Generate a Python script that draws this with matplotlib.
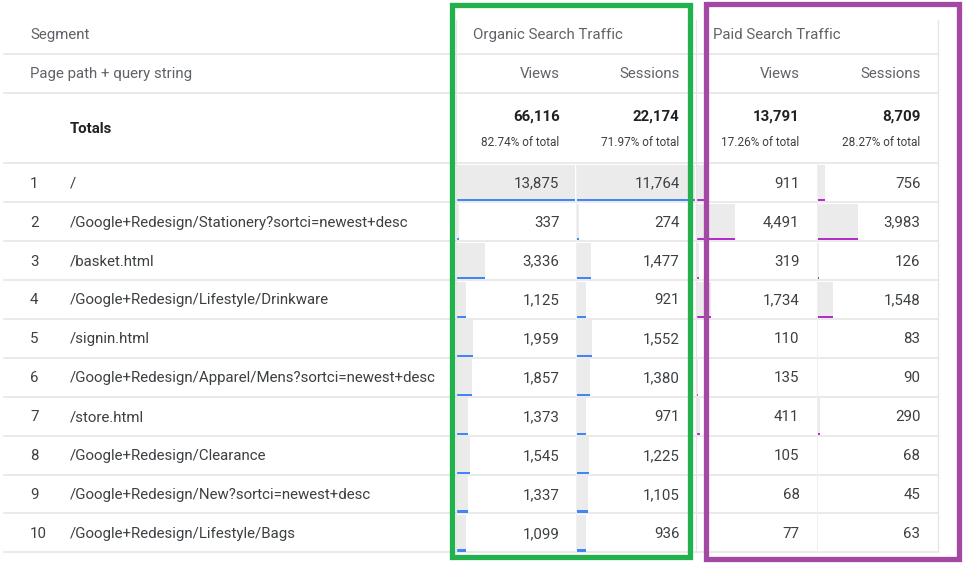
import matplotlib
matplotlib.use("Agg")
from matplotlib import pyplot as plt
from matplotlib.patches import Rectangle

plt.rcParams['font.family'] = ['Roboto', 'DejaVu Sans']

# data
paths = ['/', '/Google+Redesign/Stationery?sortci=newest+desc', '/basket.html',
         '/Google+Redesign/Lifestyle/Drinkware', '/signin.html',
         '/Google+Redesign/Apparel/Mens?sortci=newest+desc', '/store.html',
         '/Google+Redesign/Clearance', '/Google+Redesign/New?sortci=newest+desc',
         '/Google+Redesign/Lifestyle/Bags']
organic_views = [13875, 337, 3336, 1125, 1959, 1857, 1373, 1545, 1337, 1099]
organic_sessions = [11764, 274, 1477, 921, 1552, 1380, 971, 1225, 1105, 936]
paid_views = [911, 4491, 319, 1734, 110, 135, 411, 105, 68, 77]
paid_sessions = [756, 3983, 126, 1548, 83, 90, 290, 68, 45, 63]
totals = [66116, 22174, 13791, 8709]
total_pct = ['82.74% of total', '71.97% of total', '17.26% of total', '28.27% of total']
segments = ['Organic Search Traffic', 'Paid Search Traffic']
metrics = ['Views', 'Sessions']

# layout (pixels)
W, H = 975, 583
table_left, table_right = 4, 938
cell_left = [456, 576, 696, 817]
cell_w = 120.5
pad = 17
row_top = 163.3
row_h = 38.9
line_col = '#e6e6e6'
head_col = '#5f6368'
text_col = '#3c4043'
bar_grey = '#ebebeb'
seg_cols = ['#4285f4', '#b22fc9']

fig = plt.figure(figsize=(W / 100, H / 100), dpi=100)
ax = fig.add_axes([0, 0, 1, 1])
ax.set_xlim(0, W)
ax.set_ylim(H, 0)
ax.axis('off')

columns = [organic_views, organic_sessions, paid_views, paid_sessions]
views_max = max(max(organic_views), max(paid_views))
sessions_max = max(max(organic_sessions), max(paid_sessions))
col_max = [views_max, sessions_max, views_max, sessions_max]
n = len(paths)
row_ys = [row_top + row_h * i for i in range(n)]

# in-cell bars
for c, vals in enumerate(columns):
    widths = [v / col_max[c] * (cell_w - 2) for v in vals]
    color = seg_cols[c // 2]
    ax.barh([y + 1.5 for y in row_ys], widths, height=row_h - 3.5, left=cell_left[c] + 0.5,
            align='edge', color=bar_grey, zorder=1)
    ax.barh([y + row_h - 3.0 for y in row_ys], widths, height=2.2, left=cell_left[c] + 0.5,
            align='edge', color=color, zorder=2)

# grid lines
for y in [53.5, 93] + [row_top + row_h * i for i in range(n + 1)]:
    ax.plot([table_left, table_right], [y, y], color=line_col, lw=1.2, zorder=0)
for x in [cell_left[0], cell_left[2], table_right]:
    ax.plot([x, x], [20, row_top + row_h * n], color=line_col, lw=1.0, zorder=3)
for x in [cell_left[1], cell_left[3]]:
    ax.plot([x, x], [row_top, row_top + row_h * n], color='#f0f0f0', lw=0.8, zorder=0)

fs = 10.8
# headers
ax.text(30, 35, 'Segment', fontsize=fs, color=head_col, va='center')
ax.text(30, 74, 'Page path + query string', fontsize=fs, color=head_col, va='center')
for s, seg in enumerate(segments):
    ax.text(cell_left[2 * s] + 17, 35, seg, fontsize=fs, color=head_col, va='center')
for c in range(4):
    ax.text(cell_left[c] + cell_w - pad, 74, metrics[c % 2], fontsize=fs, color=head_col,
            va='center', ha='right')

# totals
ax.text(70, 129, 'Totals', fontsize=fs, color='#202124', va='center', fontweight='bold')
for c in range(4):
    x = cell_left[c] + cell_w - pad
    ax.text(x, 117, f'{totals[c]:,}', fontsize=fs, color='#202124', va='center', ha='right',
            fontweight='bold')
    ax.text(x, 142, total_pct[c], fontsize=8.5, color=text_col, va='center', ha='right')

# rows
for i, p in enumerate(paths):
    yc = row_ys[i] + row_h / 2 + 1
    ax.text(30, yc, str(i + 1), fontsize=fs, color=text_col, va='center')
    ax.text(70, yc, p, fontsize=fs, color=text_col, va='center')
    for c, vals in enumerate(columns):
        ax.text(cell_left[c] + cell_w - pad, yc, f'{vals[i]:,}', fontsize=fs, color=text_col,
                va='center', ha='right', zorder=4)

# highlight frames
ax.add_patch(Rectangle((451.5, 5), 238.5, 552, fill=False, edgecolor='#22b14c', lw=3.8, zorder=5))
ax.add_patch(Rectangle((705.5, 4), 253, 554.5, fill=False, edgecolor='#a349a4', lw=3.8, zorder=5))

fig.savefig('out.png', dpi=100)
